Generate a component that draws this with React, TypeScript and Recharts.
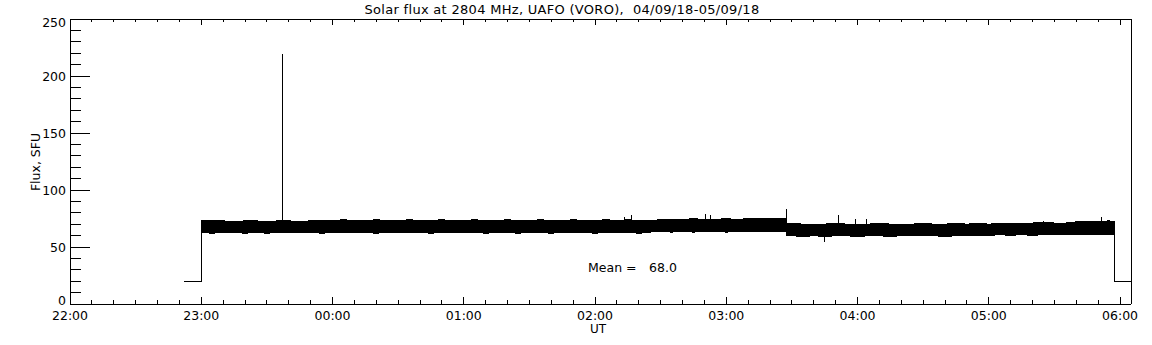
import React from 'react';
import { ComposedChart, Area, Line, XAxis, YAxis } from 'recharts';

// time is minutes after 22:00 UT
const fluxTime = [
  52.3, 60, 60, 65, 70, 75, 80, 85, 90, 95, 100, 105, 110, 115, 120, 125, 130, 135, 140, 145,
  150, 155, 160, 165, 170, 175, 180, 185, 190, 195, 200, 205, 210, 215, 220, 225, 230, 235,
  240, 245, 250, 255, 260, 265, 270, 275, 280, 285, 290, 295, 300, 305, 310, 315, 320, 325,
  327.4, 327.4, 330, 335, 340, 345, 350, 355, 360, 365, 370, 375, 380, 385, 390, 395, 400,
  405, 410, 415, 420, 425, 430, 435, 440, 445, 450, 455, 460, 465, 470, 475, 477.3, 477.3, 485,
];
const fluxLow = [
  20, 20, 63, 62, 63, 63, 62, 63, 62, 63, 63, 63, 63, 62, 63, 63, 63, 63, 62, 63,
  63, 63, 63, 62, 63, 63, 63, 63, 62, 63, 63, 62, 63, 63, 62, 63, 63, 63,
  62, 63, 63, 63, 62, 63, 64, 63, 64, 63, 64, 64, 63, 64, 64, 64, 64, 64,
  64, 60, 60, 59, 60, 59, 60, 60, 59, 60, 60, 59, 60, 60, 60, 60, 59,
  60, 60, 60, 60, 61, 60, 61, 60, 61, 61, 61, 61, 61, 61, 61, 61, 20, 20,
];
const fluxHigh = [
  20, 20, 73, 73, 73, 72, 73, 73, 72, 73, 73, 72, 73, 73, 73, 74, 73, 73, 74, 73,
  73, 74, 73, 73, 74, 73, 73, 74, 73, 73, 74, 73, 73, 74, 73, 73, 74, 73,
  73, 74, 73, 74, 73, 73, 74, 74, 74, 75, 74, 74, 75, 74, 75, 75, 75, 75,
  75, 71, 71, 70, 70, 70, 71, 70, 70, 70, 71, 70, 70, 70, 71, 70, 70,
  71, 70, 71, 70, 71, 71, 71, 71, 72, 71, 71, 72, 72, 72, 73, 72, 20, 20,
];

// isolated spikes: time, level they start from, level they reach
const spikeTime = [97.1, 253.4, 256.6, 290.7, 292.8, 327.4, 344.7, 351.1, 358.9, 363.9, 471.7];
const spikeBase = [70, 70, 70, 70, 70, 70, 62, 66, 66, 66, 68];
const spikeTop = [219, 76, 78, 79, 78, 83, 54, 78, 75, 75, 76];

const xTicks = Array.from({ length: 49 }, (_, i) => i * 10);
const hourLabels = ['22:00', '23:00', '00:00', '01:00', '02:00', '03:00', '04:00', '05:00', '06:00'];
const yTicks = Array.from({ length: 26 }, (_, i) => i * 10);

const meanValue = '68.0';

const fluxRows = fluxTime.map((t, i) => ({ t, range: [fluxLow[i], fluxHigh[i]] }));
const spikeRows = spikeTime.flatMap((t, i) => [
  { t, v: spikeBase[i] },
  { t, v: spikeTop[i] },
  { t: t + 0.01, v: null },
]);

const font = { fontFamily: 'DejaVu Sans', fontSize: 12.5, fill: '#000' };

const BottomTick = (props: any) => {
  const { x, y, payload } = props;
  const major = payload.value % 60 === 0;
  return (
    <g>
      <line x1={x} x2={x} y1={y} y2={y - (major ? 7 : 4)} stroke="#000" />
      {major && (
        <text x={x} y={y + 16} textAnchor="middle" {...font}>
          {hourLabels[payload.value / 60]}
        </text>
      )}
    </g>
  );
};

const TopTick = (props: any) => {
  const { x, y, payload } = props;
  const major = payload.value % 60 === 0;
  return <line x1={x} x2={x} y1={y} y2={y + (major ? 6 : 3)} stroke="#000" />;
};

const LeftTick = (props: any) => {
  const { x, y, payload } = props;
  const major = payload.value % 50 === 0;
  // end labels sit just inside the frame, as in the original plot
  const shift = payload.value === 0 ? -4 : payload.value === 250 ? 3 : 0;
  return (
    <g>
      <line x1={x} x2={x + (major ? 20 : 11)} y1={y} y2={y} stroke="#000" />
      {major && (
        <text x={x - 4} y={y + shift} dy="0.36em" textAnchor="end" {...font}>
          {payload.value}
        </text>
      )}
    </g>
  );
};

const RightTick = (props: any) => {
  const { x, y, payload } = props;
  const major = payload.value % 50 === 0;
  return <line x1={x} x2={x - (major ? 20 : 10)} y1={y} y2={y} stroke="#000" />;
};

const label: React.CSSProperties = {
  position: 'absolute',
  fontFamily: 'DejaVu Sans',
  fontSize: 12.5,
  lineHeight: '13px',
  color: '#000',
  whiteSpace: 'pre',
};

export default function App() {
  return (
    <div
      style={{
        position: 'absolute',
        left: 0,
        top: 0,
        width: 1152,
        height: 345,
        background: '#fff',
        shapeRendering: 'crispEdges',
      }}
    >
      <ComposedChart
        width={1152}
        height={345}
        data={fluxRows}
        margin={{ top: 18, right: 20, bottom: 40, left: 69 }}
      >
        <XAxis
          dataKey="t"
          type="number"
          domain={[0, 485]}
          ticks={xTicks}
          interval={0}
          height={1}
          tickSize={0}
          tickMargin={0}
          tickLine={false}
          axisLine={{ stroke: '#000' }}
          tick={BottomTick}
        />
        <XAxis
          xAxisId="top"
          orientation="top"
          dataKey="t"
          type="number"
          domain={[0, 485]}
          ticks={xTicks}
          interval={0}
          height={1}
          tickSize={0}
          tickMargin={0}
          tickLine={false}
          axisLine={{ stroke: '#000' }}
          tick={TopTick}
        />
        <YAxis
          type="number"
          domain={[0, 250]}
          ticks={yTicks}
          interval={0}
          width={1}
          tickSize={0}
          tickMargin={0}
          tickLine={false}
          axisLine={{ stroke: '#000' }}
          tick={LeftTick}
        />
        <YAxis
          yAxisId="right"
          orientation="right"
          type="number"
          domain={[0, 250]}
          ticks={yTicks}
          interval={0}
          width={1}
          tickSize={0}
          tickMargin={0}
          tickLine={false}
          axisLine={{ stroke: '#000' }}
          tick={RightTick}
        />
        <Area
          dataKey="range"
          type="linear"
          stroke="#000"
          strokeWidth={1}
          fill="#000"
          fillOpacity={1}
          dot={false}
          activeDot={false}
          isAnimationActive={false}
        />
        <Line
          data={spikeRows}
          dataKey="v"
          type="linear"
          stroke="#000"
          strokeWidth={1}
          dot={false}
          activeDot={false}
          isAnimationActive={false}
        />
      </ComposedChart>
      <div
        style={{
          ...label,
          fontSize: 13,
          letterSpacing: 0.3,
          left: 562,
          top: 3,
          transform: 'translateX(-50%)',
        }}
      >
        Solar flux at 2804 MHz, UAFO (VORO),  04/09/18-05/09/18
      </div>
      <div
        style={{
          ...label,
          left: 35,
          top: 162,
          transform: 'translate(-50%, -50%) rotate(-90deg)',
        }}
      >
        Flux, SFU
      </div>
      <div
        style={{
          ...label,
          fontSize: 12,
          lineHeight: '12px',
          left: 598,
          top: 323,
          transform: 'translateX(-50%)',
        }}
      >
        UT
      </div>
      <div style={{ ...label, left: 588, top: 261 }}>Mean =</div>
      <div style={{ ...label, left: 649, top: 261 }}>{meanValue}</div>
    </div>
  );
}
